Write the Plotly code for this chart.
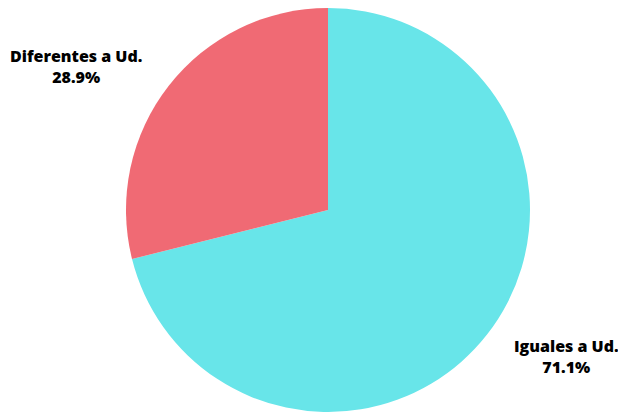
import plotly.graph_objects as go

labels = ["Iguales a Ud.", "Diferentes a Ud."]
values = [71.1, 28.9]
colors = ["#68E5E9", "#F06A74"]

W, H = 618, 412
fig = go.Figure(go.Pie(
    labels=labels, values=values, sort=False, direction="clockwise", rotation=0,
    marker=dict(colors=colors, line=dict(width=0)),
    textinfo="none", hoverinfo="label+percent",
    domain=dict(x=[126 / W, 530 / W], y=[0, (H - 8) / H]),
))

label_pos = {"Iguales a Ud.": (566, 356), "Diferentes a Ud.": (76, 66)}
for lab, val in zip(labels, values):
    px, py = label_pos[lab]
    fig.add_annotation(
        x=px / W, y=1 - py / H, xref="paper", yref="paper",
        text=f"{lab}<br>{val:.1f}%", showarrow=False,
        xanchor="center", yanchor="middle", align="center",
        font=dict(family="Open Sans", size=16, color="#000000", weight=800),
    )

fig.update_layout(
    width=W, height=H, margin=dict(l=0, r=0, t=0, b=0),
    showlegend=False, paper_bgcolor="white", plot_bgcolor="white",
)
fig.write_html("out.html")
